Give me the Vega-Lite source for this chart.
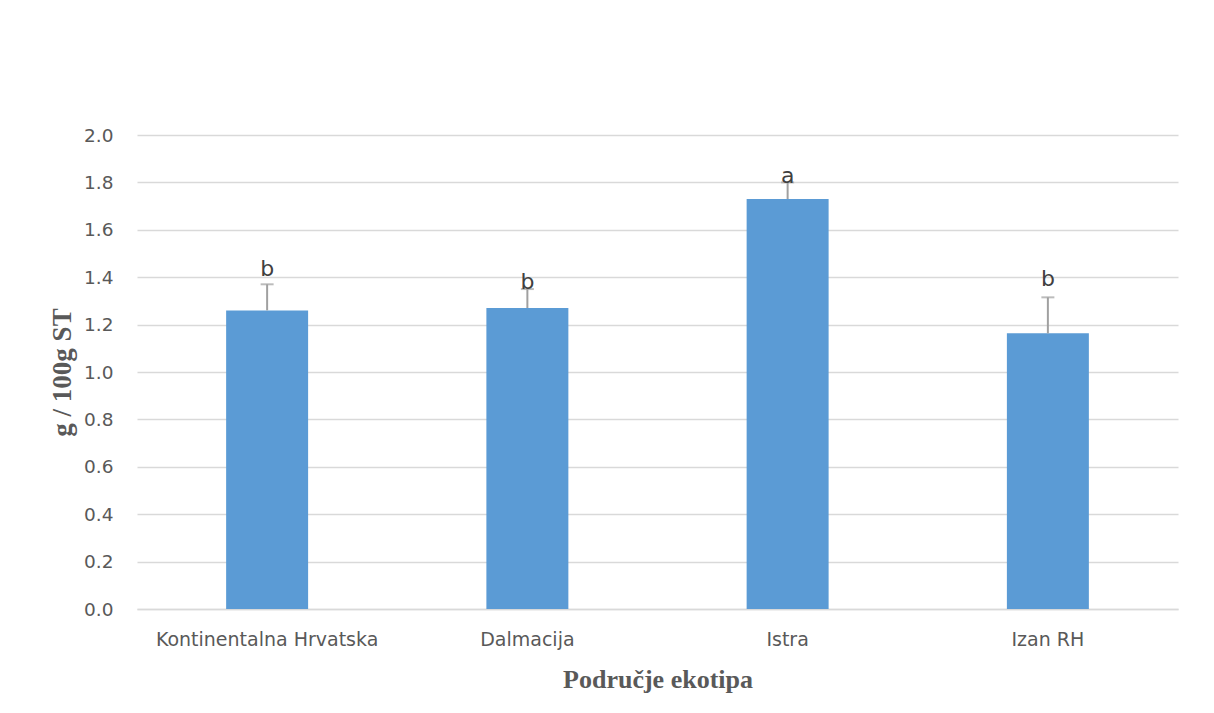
{
  "$schema": "https://vega.github.io/schema/vega-lite/v6.json",
  "autosize": {"type": "none"},
  "width": 1041,
  "height": 474,
  "padding": {"left": 137, "top": 135, "right": 36, "bottom": 104},
  "background": "white",
  "config": {
    "view": {"stroke": null},
    "font": "DejaVu Sans"
  },
  "data": {
    "values": [
      {"region": "Kontinentalna Hrvatska", "mean": 1.26, "upper": 1.37, "letter": "b", "label_y": 1.405},
      {"region": "Dalmacija", "mean": 1.27, "upper": 1.35, "letter": "b", "label_y": 1.35},
      {"region": "Istra", "mean": 1.73, "upper": 1.80, "letter": "a", "label_y": 1.797},
      {"region": "Izan RH", "mean": 1.163, "upper": 1.315, "letter": "b", "label_y": 1.363}
    ]
  },
  "encoding": {
    "x": {
      "field": "region",
      "type": "nominal",
      "sort": null,
      "scale": {"paddingInner": 0.685, "paddingOuter": 0.3425},
      "axis": {
        "title": "Područje ekotipa",
        "titleFont": "Liberation Serif",
        "titleFontWeight": "bold",
        "titleFontSize": 26,
        "titleColor": "#595959",
        "titlePadding": 17,
        "labelAngle": 0,
        "labelFont": "DejaVu Sans",
        "labelFontSize": 19,
        "labelColor": "#595959",
        "labelPadding": 21,
        "labelLimit": 400,
        "ticks": false,
        "domainColor": "#D9D9D9",
        "domainWidth": 1.5
      }
    }
  },
  "layer": [
    {
      "mark": {"type": "bar", "color": "#5B9BD5"},
      "encoding": {
        "y": {
          "field": "mean",
          "type": "quantitative",
          "scale": {"domain": [0, 2]},
          "axis": {
            "title": "g / 100g ST",
            "titleFont": "Liberation Serif",
            "titleFontWeight": "bold",
            "titleFontSize": 27,
            "titleColor": "#595959",
            "titlePadding": 7,
            "values": [0, 0.2, 0.4, 0.6, 0.8, 1.0, 1.2, 1.4, 1.6, 1.8, 2.0],
            "format": ".1f",
            "labelFont": "DejaVu Sans",
            "labelFontSize": 18.5,
            "labelColor": "#595959",
            "labelPadding": 24,
            "ticks": false,
            "domain": false,
            "grid": true,
            "gridColor": "#D9D9D9",
            "gridWidth": 1.5
          }
        }
      }
    },
    {
      "mark": {"type": "rule", "color": "#A0A0A0", "strokeWidth": 2},
      "encoding": {
        "y": {"field": "mean", "type": "quantitative"},
        "y2": {"field": "upper"}
      }
    },
    {
      "mark": {"type": "tick", "color": "#A0A0A0", "thickness": 2, "size": 13, "orient": "horizontal"},
      "encoding": {
        "y": {"field": "upper", "type": "quantitative"}
      }
    },
    {
      "mark": {"type": "text", "baseline": "alphabetic", "fontSize": 22, "font": "DejaVu Sans", "color": "#404040"},
      "encoding": {
        "y": {"field": "label_y", "type": "quantitative"},
        "text": {"field": "letter"}
      }
    }
  ]
}
